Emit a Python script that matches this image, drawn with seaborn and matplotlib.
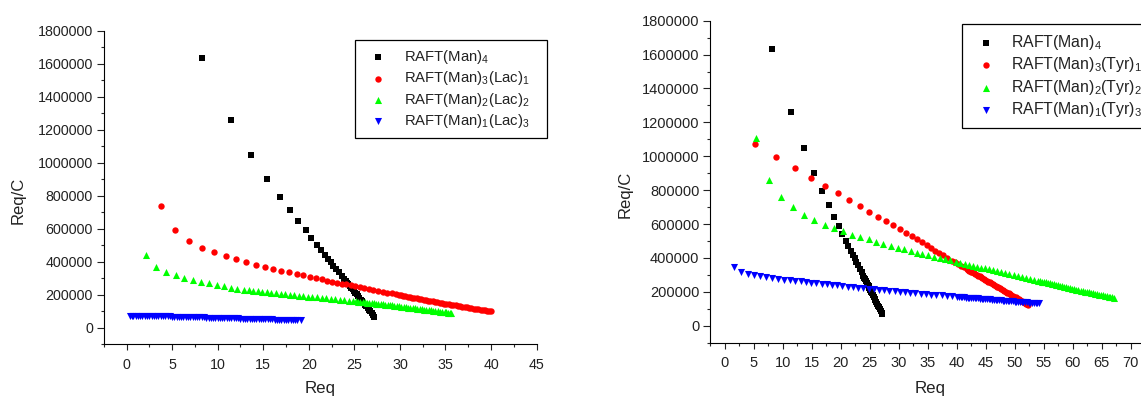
import matplotlib
matplotlib.use("Agg")
import matplotlib.pyplot as plt
import matplotlib.ticker as mticker
import seaborn as sns

# Req / (Req/C) (Req/C in units of 1000)
man4_req = [8.23, 11.46, 13.70, 15.43, 16.85, 17.95, 18.86, 19.65, 20.28, 20.87, 21.34, 21.77,
            22.1, 22.4, 22.7, 23.0, 23.3, 23.6, 23.9, 24.05, 24.2, 24.35, 24.5, 24.65, 24.8,
            24.95, 25.1, 25.25, 25.4, 25.55, 25.7, 25.85, 26.0, 26.15, 26.3, 26.45, 26.6,
            26.75, 26.9, 27.05, 27.2]
man4_reqc = [1634, 1259, 1046, 901, 794, 711, 644, 590, 543, 503, 471, 440,
             417, 397, 376, 356, 335, 315, 294, 284, 273, 263, 253, 243, 232,
             222, 212, 202, 191, 181, 171, 160, 150, 140, 130, 119, 109,
             99, 88, 78, 68]

lac1_req = [3.74, 5.35, 6.85, 8.23, 9.65, 10.91, 12.05, 13.15, 14.21, 15.2, 16.1, 17.0, 17.83,
            18.66, 19.4, 20.1, 20.8, 21.4, 22.05, 22.6, 23.1, 23.6, 24.1, 24.6, 25.1, 25.6, 26.1,
            26.6, 27.1, 27.6, 28.1, 28.6, 29.1, 29.6, 29.85, 30.1, 30.35, 30.6, 30.85, 31.1,
            31.35, 31.6, 31.85, 32.1, 32.35, 32.6, 32.85, 33.1, 33.35, 33.6, 33.85, 34.1, 34.35,
            34.6, 34.85, 35.1, 35.35, 35.6, 35.85, 36.1, 36.35, 36.6, 36.85, 37.1, 37.35, 37.6,
            37.85, 38.1, 38.35, 38.6, 38.85, 39.1, 39.35, 39.6, 39.8, 40.0]
lac1_reqc = [739, 592, 527, 485, 457, 432, 414, 396, 382, 368, 358, 345, 335,
             325, 317, 309, 301, 293, 285, 279, 274, 268, 263, 257, 252, 246, 241,
             235, 230, 224, 219, 213, 208, 202, 200, 197, 194, 191, 189, 186,
             183, 180, 178, 175, 172, 170, 167, 165, 162, 160, 157, 155, 152,
             150, 147, 145, 143, 141, 138, 136, 133, 131, 128, 126, 123, 121,
             118, 116, 113, 111, 109, 107, 105, 103, 101, 100]

lac2_req = [2.17, 3.27, 4.37, 5.39, 6.34, 7.28, 8.19, 9.06, 9.88, 10.67, 11.46, 12.17, 12.87,
            13.4, 13.9, 14.4, 14.9, 15.4, 15.9, 16.4, 16.9, 17.4, 17.9, 18.4, 18.9, 19.4, 19.9,
            20.4, 20.9, 21.4, 21.9, 22.4, 22.9, 23.4, 23.9, 24.4, 24.9, 25.15, 25.4, 25.65,
            25.9, 26.15, 26.4, 26.65, 26.9, 27.15, 27.4, 27.65, 27.9, 28.15, 28.4, 28.65, 28.9,
            29.15, 29.4, 29.65, 29.9, 30.15, 30.4, 30.65, 30.9, 31.15, 31.4, 31.65, 31.9, 32.15,
            32.4, 32.65, 32.9, 33.15, 33.4, 33.65, 33.9, 34.15, 34.4, 34.65, 34.9, 35.1, 35.3,
            35.45, 35.6]
lac2_reqc = [438, 368, 335, 317, 303, 289, 277, 269, 259, 251, 244, 236, 230,
             227, 224, 221, 218, 215, 212, 210, 207, 204, 201, 198, 195, 192, 189,
             187, 184, 181, 178, 175, 172, 170, 167, 164, 161, 160, 158, 157,
             155, 154, 152, 151, 149, 148, 147, 146, 144, 142, 140, 138, 136,
             135, 133, 131, 129, 128, 126, 124, 122, 121, 119, 117, 115, 114,
             112, 110, 108, 107, 105, 103, 101, 100, 98, 96, 94, 93, 92,
             91, 90]

lac3_req = [0.35, 0.55, 0.75, 1.0, 1.25, 1.5, 1.75, 2.0, 2.25, 2.5, 2.75, 3.0, 3.25, 3.5,
            3.75, 4.0, 4.25, 4.5, 4.75, 5.0, 5.25, 5.5, 5.75, 6.0, 6.25, 6.5, 6.75, 7.0, 7.25,
            7.5, 7.75, 8.0, 8.25, 8.5, 8.75, 9.0, 9.25, 9.5, 9.75, 10.0, 10.25, 10.5, 10.75,
            11.0, 11.25, 11.5, 11.75, 12.0, 12.25, 12.5, 12.75, 13.0, 13.25, 13.5, 13.75, 14.0,
            14.25, 14.5, 14.75, 15.0, 15.25, 15.5, 15.75, 16.0, 16.25, 16.5, 16.75, 17.0, 17.25,
            17.5, 17.75, 18.0, 18.25, 18.5, 18.75, 19.1]
lac3_reqc = [70, 71, 72, 73, 73, 73, 73, 73, 73, 72, 72, 71, 71, 71,
             70, 70, 69, 69, 69, 68, 68, 67, 67, 67, 66, 66, 65, 65, 65,
             64, 64, 64, 63, 63, 62, 62, 62, 61, 61, 60, 60, 60, 59,
             59, 58, 58, 58, 57, 57, 56, 56, 56, 55, 55, 54, 54,
             54, 53, 53, 52, 52, 52, 51, 51, 50, 50, 50, 49, 49,
             49, 48, 48, 47, 47, 47, 46]

tyr1_req = [5.2, 8.9, 12.1, 14.8, 17.3, 19.6, 21.5, 23.3, 24.95, 26.45, 27.9, 29.1, 30.25,
            31.3, 32.3, 33.2, 34.0, 34.8, 35.6, 36.3, 37.0, 37.7, 38.4, 39.2, 39.7, 40.2, 40.7,
            41.2, 41.7, 41.95, 42.2, 42.45, 42.7, 42.95, 43.2, 43.45, 43.7, 43.95, 44.2, 44.45,
            44.7, 44.95, 45.2, 45.45, 45.7, 45.95, 46.2, 46.45, 46.7, 46.95, 47.2, 47.45, 47.7,
            47.95, 48.2, 48.45, 48.7, 48.95, 49.2, 49.45, 49.7, 49.95, 50.2, 50.45, 50.7, 50.95,
            51.2, 51.45, 51.7, 51.85, 52.0, 52.15, 52.3]
tyr1_reqc = [1070, 995, 931, 874, 827, 781, 741, 706, 673, 644, 617, 592, 569,
             548, 528, 510, 493, 477, 460, 444, 430, 416, 402, 385, 375, 365, 355,
             345, 335, 330, 325, 320, 315, 310, 305, 300, 296, 291, 286, 281,
             276, 271, 266, 261, 256, 251, 246, 241, 236, 231, 226, 221, 216,
             211, 206, 201, 196, 192, 187, 182, 177, 172, 167, 162, 157, 152,
             147, 142, 137, 134, 131, 128, 125]

tyr2_req = [5.43, 7.66, 9.71, 11.76, 13.64, 15.46, 17.23, 18.89, 20.42, 21.96, 23.38, 24.8,
            26.06, 27.36, 28.62, 29.82, 30.95, 32.05, 33.12, 34.1, 35.1, 36.1, 37.1, 38.0,
            38.9, 39.8, 40.6, 41.4, 42.1, 42.8, 43.5, 44.2, 44.9, 45.6, 46.3, 47.0, 47.7,
            48.4, 49.1, 49.8, 50.5, 51.2, 51.9, 52.6, 53.3, 54.0, 54.35, 54.7, 55.05, 55.4,
            55.75, 56.1, 56.45, 56.8, 57.15, 57.5, 57.85, 58.2, 58.55, 58.9, 59.25, 59.6, 59.95,
            60.3, 60.65, 61.0, 61.35, 61.7, 62.05, 62.4, 62.75, 63.1, 63.45, 63.8, 64.15, 64.5,
            64.85, 65.2, 65.55, 65.9, 66.2, 66.5, 66.8, 67.1]
tyr2_reqc = [1110, 862, 759, 698, 655, 625, 596, 578, 558, 538, 523, 509,
             495, 483, 472, 460, 450, 442, 432, 424, 416, 408, 400, 393,
             386, 378, 372, 365, 360, 354, 349, 343, 338, 332, 327, 321, 316,
             310, 305, 299, 294, 288, 283, 278, 272, 267, 264, 261, 258, 256,
             253, 250, 247, 245, 242, 239, 236, 234, 231, 228, 225, 222, 219,
             216, 213, 210, 207, 205, 202, 200, 197, 195, 192, 189, 186, 184,
             181, 179, 176, 174, 172, 170, 168, 166]

tyr3_req = [1.56, 2.82, 3.95, 5.04, 6.12, 7.2, 8.22, 9.25, 10.27, 11.25, 12.2, 13.1, 14.0,
            14.9, 15.8, 16.7, 17.6, 18.5, 19.4, 20.3, 21.2, 22.1, 23.0, 23.9, 24.8, 25.7,
            26.6, 27.5, 28.4, 29.3, 30.2, 31.1, 32.0, 32.9, 33.8, 34.7, 35.6, 36.5, 37.4,
            38.3, 39.2, 40.1, 40.4, 40.7, 41.0, 41.3, 41.6, 41.9, 42.2, 42.5, 42.8, 43.1,
            43.4, 43.7, 44.0, 44.3, 44.6, 44.9, 45.2, 45.5, 45.8, 46.1, 46.4, 46.7, 47.0,
            47.3, 47.6, 47.9, 48.2, 48.5, 48.8, 49.1, 49.4, 49.7, 50.0, 50.3, 50.6, 50.9,
            51.2, 51.5, 51.8, 52.1, 52.4, 52.7, 53.0, 53.3, 53.6, 53.9, 54.2]
tyr3_reqc = [345, 315, 304, 298, 292, 286, 282, 278, 272, 268, 265, 262, 258,
             255, 251, 248, 245, 241, 238, 234, 231, 228, 225, 222, 219, 216,
             213, 210, 207, 204, 201, 198, 196, 193, 190, 187, 184, 182, 179,
             176, 174, 171, 170, 169, 168, 167, 166, 166, 165, 164, 163, 162,
             161, 161, 160, 159, 158, 157, 156, 156, 155, 154, 153, 152, 151,
             151, 150, 149, 148, 147, 146, 146, 145, 144, 143, 142, 141, 141,
             140, 139, 138, 138, 137, 136, 135, 135, 134, 133, 133]

labels_lac = ["RAFT(Man)$_\\mathregular{4}$   ",
              "RAFT(Man)$_\\mathregular{3}$(Lac)$_\\mathregular{1}$   ",
              "RAFT(Man)$_\\mathregular{2}$(Lac)$_\\mathregular{2}$   ",
              "RAFT(Man)$_\\mathregular{1}$(Lac)$_\\mathregular{3}$   "]
labels_tyr = ["RAFT(Man)$_\\mathregular{4}$",
              "RAFT(Man)$_\\mathregular{3}$(Tyr)$_\\mathregular{1}$",
              "RAFT(Man)$_\\mathregular{2}$(Tyr)$_\\mathregular{2}$",
              "RAFT(Man)$_\\mathregular{1}$(Tyr)$_\\mathregular{3}$"]

colors = ["#000000", "#ff0000", "#00ff00", "#0000ff"]
markers = ["s", "o", "^", "v"]
sizes = [17, 21, 26, 26]

sns.set_style("ticks")
plt.rcParams['font.family'] = ['Liberation Sans', 'DejaVu Sans']
plt.rcParams['mathtext.fontset'] = 'custom'
plt.rcParams['mathtext.rm'] = 'Liberation Sans'

fig = plt.figure(figsize=(11.41, 3.96), dpi=100)
ax1 = fig.add_axes([0.0909, 0.1306, 0.3794, 0.7919])
ax2 = fig.add_axes([0.6224, 0.1346, 0.4067, 0.8131])


def draw_panel(ax, series, labels, xmax, xlabel_max, tick_fs):
    for (req, reqc), lab, col, mk, sz in zip(series, labels, colors, markers, sizes):
        sns.scatterplot(x=req, y=[v * 1000 for v in reqc], ax=ax, marker=mk, color=col,
                        s=sz, linewidth=0, label=lab)
    ax.set_xlim(-2.5, xmax)
    ax.set_ylim(-100000, 1800000)
    ax.xaxis.set_major_locator(mticker.FixedLocator(list(range(0, xlabel_max + 1, 5))))
    ax.xaxis.set_minor_locator(mticker.MultipleLocator(2.5))
    ax.yaxis.set_major_locator(mticker.MultipleLocator(200000))
    ax.yaxis.set_minor_locator(mticker.MultipleLocator(100000))
    ax.xaxis.set_major_formatter(mticker.FuncFormatter(lambda v, p: f"{v:g}"))
    ax.yaxis.set_major_formatter(mticker.FuncFormatter(lambda v, p: f"{v:.0f}"))
    for side in ["top", "right"]:
        ax.spines[side].set_visible(False)
    for side in ["left", "bottom"]:
        ax.spines[side].set_linewidth(0.8)
        ax.spines[side].set_color("black")
    ax.tick_params(axis="y", which="major", direction="out", length=4.8, width=0.8,
                   pad=3, labelsize=tick_fs, colors="#222222")
    ax.tick_params(axis="y", which="minor", direction="out", length=2.4, width=0.8)
    ax.tick_params(axis="x", which="major", direction="out", length=4.0, width=0.8,
                   pad=5.8, labelsize=tick_fs, colors="#222222")
    ax.tick_params(axis="x", which="minor", direction="out", length=2.2, width=0.8)
    ax.grid(False)


draw_panel(ax1, [(man4_req, man4_reqc), (lac1_req, lac1_reqc), (lac2_req, lac2_reqc),
                 (lac3_req, lac3_reqc)], labels_lac, 45, 45, 10.3)
draw_panel(ax2, [(man4_req, man4_reqc), (tyr1_req, tyr1_reqc), (tyr2_req, tyr2_reqc),
                 (tyr3_req, tyr3_reqc)], labels_tyr, 77.5, 70, 10.5)

ax1.set_xlabel("Req", fontsize=12.2, color="#222222")
ax1.set_ylabel("Req/C", fontsize=12, color="#222222")
ax1.xaxis.set_label_coords(0.5, -0.118)
ax1.yaxis.set_label_coords(-0.1795, 0.46)
ax2.set_xlabel("Req", fontsize=12.2, color="#222222")
ax2.set_ylabel("Req/C", fontsize=12, color="#222222")
ax2.xaxis.set_label_coords(0.473, -0.118)
ax2.yaxis.set_label_coords(-0.168, 0.462)

leg1 = ax1.legend(loc="upper left", bbox_to_anchor=(355 / 1141, 1 - 40 / 396),
                  bbox_transform=fig.transFigure, borderaxespad=0, fontsize=10.7,
                  frameon=True, fancybox=False, edgecolor="black", framealpha=1,
                  borderpad=0.55, handlelength=2.0, handletextpad=0.73, labelspacing=0.22)
leg2 = ax2.legend(loc="upper left", bbox_to_anchor=(962 / 1141, 1 - 24.3 / 396),
                  bbox_transform=fig.transFigure, borderaxespad=0, fontsize=11.4,
                  frameon=True, fancybox=False, edgecolor="black", framealpha=1,
                  borderpad=0.55, handlelength=1.95, handletextpad=0.62, labelspacing=0.22)
for leg in (leg1, leg2):
    leg.get_frame().set_linewidth(0.9)
    for t in leg.get_texts():
        t.set_color("#222222")

fig.savefig("out.png", dpi=100)
